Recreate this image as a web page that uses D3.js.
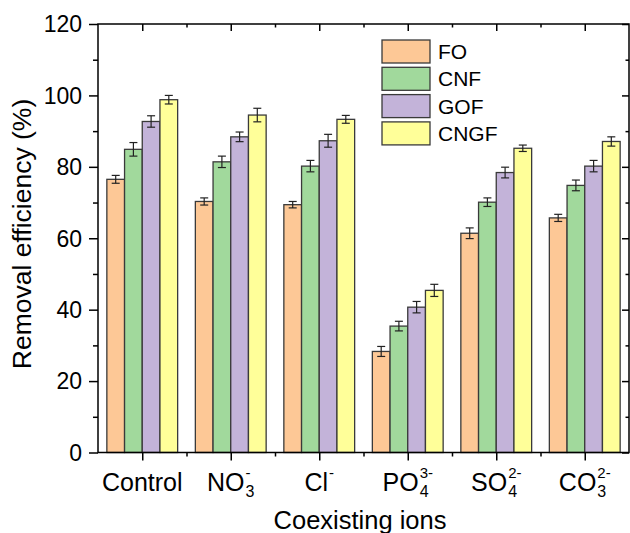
<!DOCTYPE html>
<html>
<head>
<meta charset="utf-8">
<script src="https://cdn.jsdelivr.net/npm/d3@7"></script>
<style>
  body { margin: 0; background: #fff; }
  svg { display: block; font-family: "Liberation Sans", Arial, sans-serif; }
</style>
</head>
<body>
<svg id="chart" width="630" height="533"></svg>
<script>
// 데이터
const catMain = ['Control', 'NO', 'Cl', 'PO', 'SO', 'CO'];
const catSub = ['', '3', '', '4', '4', '3'];
const catSup = ['', '-', '-', '3-', '2-', '2-'];
const seriesNames = ['FO', 'CNF', 'GOF', 'CNGF'];
const seriesColors = ['#fdc896', '#a1d99c', '#c3b3d9', '#ffff99'];

const foVals = [76.5, 70.3, 69.4, 28.3, 61.4, 65.7];
const cnfVals = [84.9, 81.4, 80.2, 35.4, 70.1, 74.8];
const gofVals = [92.7, 88.4, 87.3, 40.7, 78.4, 80.2];
const cngfVals = [98.8, 94.5, 93.3, 45.4, 85.2, 87.1];

const foErr = [1.1, 1.0, 0.9, 1.4, 1.5, 1.0];
const cnfErr = [1.9, 1.6, 1.6, 1.35, 1.2, 1.5];
const gofErr = [1.6, 1.35, 1.8, 1.6, 1.5, 1.6];
const cngfErr = [1.2, 1.9, 1.1, 1.7, 0.9, 1.3];

const yTicks = [0, 20, 40, 60, 80, 100, 120];
const yMinor = [10, 30, 50, 70, 90, 110];

const allVals = [foVals, cnfVals, gofVals, cngfVals];
const allErr = [foErr, cnfErr, gofErr, cngfErr];

const svg = d3.select('#chart');
const plotL = 98, plotR = 629, plotT = 24, plotB = 452.5;

const x = d3.scaleLinear().domain([0.5, 6.5]).range([plotL, plotR]);
const y = d3.scaleLinear().domain([0, 120]).range([plotB, plotT]);
const barW = 0.2;

// 막대
const g = svg.append('g');
allVals.forEach((vals, si) => {
    vals.forEach((v, ci) => {
        const x0 = x(ci + 1 - 0.4 + si * barW);
        const x1 = x(ci + 1 - 0.4 + (si + 1) * barW);
        g.append('rect')
            .attr('x', x0)
            .attr('y', y(v))
            .attr('width', x1 - x0)
            .attr('height', y(0) - y(v))
            .attr('fill', seriesColors[si])
            .attr('stroke', '#3a3a3a')
            .attr('stroke-width', 1.3);
    });
});

// 오차 막대
allVals.forEach((vals, si) => {
    vals.forEach((v, ci) => {
        const cx = x(ci + 1 - 0.4 + (si + 0.5) * barW);
        const e = allErr[si][ci];
        const eg = g.append('g').attr('stroke', '#222').attr('stroke-width', 1.2);
        eg.append('line').attr('x1', cx).attr('x2', cx).attr('y1', y(v + e)).attr('y2', y(v - e));
        [v + e, v - e].forEach(yy => {
            eg.append('line').attr('x1', cx - 4).attr('x2', cx + 4).attr('y1', y(yy)).attr('y2', y(yy));
        });
    });
});

// 축
const axisStyle = sel => {
    sel.select('.domain').remove();
    sel.selectAll('line').attr('stroke', '#000').attr('stroke-width', 1.5);
    sel.selectAll('text').remove();
};
const majorX = d3.range(1, 7);
const minorX = d3.range(1.5, 6, 1);

svg.append('g').attr('transform', `translate(0,${plotB})`)
    .call(d3.axisBottom(x).tickValues(majorX).tickSize(8)).call(axisStyle);
svg.append('g').attr('transform', `translate(0,${plotB})`)
    .call(d3.axisBottom(x).tickValues(minorX).tickSize(4)).call(axisStyle);
svg.append('g').attr('transform', `translate(0,${plotT})`)
    .call(d3.axisBottom(x).tickValues(majorX).tickSize(7)).call(axisStyle);
svg.append('g').attr('transform', `translate(0,${plotT})`)
    .call(d3.axisBottom(x).tickValues(minorX).tickSize(3.5)).call(axisStyle);

svg.append('g').attr('transform', `translate(${plotL},0)`)
    .call(d3.axisLeft(y).tickValues(yTicks).tickSize(9)).call(axisStyle);
svg.append('g').attr('transform', `translate(${plotL},0)`)
    .call(d3.axisLeft(y).tickValues(yMinor).tickSize(5)).call(axisStyle);
svg.append('g').attr('transform', `translate(${plotR},0)`)
    .call(d3.axisLeft(y).tickValues(yTicks).tickSize(7)).call(axisStyle);
svg.append('g').attr('transform', `translate(${plotR},0)`)
    .call(d3.axisLeft(y).tickValues(yMinor).tickSize(3.5)).call(axisStyle);

svg.append('rect')
    .attr('x', plotL).attr('y', plotT)
    .attr('width', plotR - plotL).attr('height', plotB - plotT)
    .attr('fill', 'none').attr('stroke', '#000').attr('stroke-width', 1.5);

// y 눈금 라벨
svg.append('g').selectAll('text').data(yTicks).join('text')
    .attr('x', plotL - 16)
    .attr('y', d => y(d))
    .attr('dy', '0.36em')
    .attr('text-anchor', 'end')
    .attr('font-size', 23)
    .text(d => d);

// x 눈금 라벨 (아래/위 첨자 - 겹치지 않게 위아래로 살짝 벌림)
const labY = 491;
catMain.forEach((m, i) => {
    const lg = svg.append('g');
    const mt = lg.append('text').attr('x', 0).attr('y', labY).attr('font-size', 25).text(m);
    const mw = mt.node().getComputedTextLength();
    let sw = 0, pw = 0;
    if (catSub[i]) {
        const st = lg.append('text').attr('x', mw + 1).attr('y', labY + 6).attr('font-size', 16).text(catSub[i]);
        sw = st.node().getComputedTextLength() + 1;
    }
    if (catSup[i]) {
        const pt = lg.append('text').attr('x', mw + 1).attr('y', labY - 13).attr('font-size', 15).text(catSup[i]);
        pw = pt.node().getComputedTextLength() + 1;
    }
    const total = mw + Math.max(sw, pw);
    lg.attr('transform', `translate(${x(i + 1) - total / 2},0)`);
});

// 축 제목
svg.append('text')
    .attr('x', 360).attr('y', 529)
    .attr('text-anchor', 'middle')
    .attr('font-size', 25.5)
    .text('Coexisting ions');

svg.append('text')
    .attr('transform', 'translate(22,234) rotate(-90)')
    .attr('text-anchor', 'middle')
    .attr('dominant-baseline', 'central')
    .attr('font-size', 26.5)
    .text('Removal efficiency (%)');

// 범례
const legend = svg.append('g');
seriesNames.forEach((name, i) => {
    const ly = 40 + i * 27.3;
    legend.append('rect')
        .attr('x', 382).attr('y', ly)
        .attr('width', 48).attr('height', 23)
        .attr('fill', seriesColors[i])
        .attr('stroke', '#3a3a3a').attr('stroke-width', 1.3);
    legend.append('text')
        .attr('x', 438).attr('y', ly + 11.5)
        .attr('dy', '0.36em')
        .attr('font-size', 21)
        .text(name);
});
</script>
</body>
</html>
